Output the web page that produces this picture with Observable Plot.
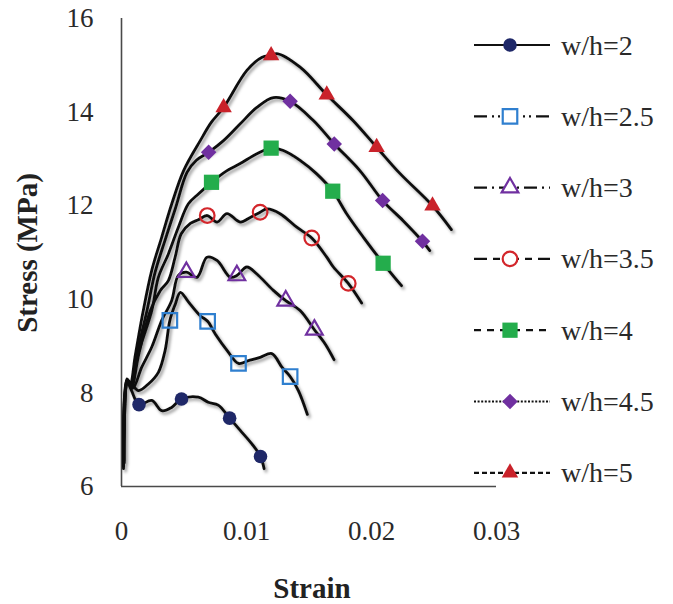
<!DOCTYPE html>
<html>
<head>
<meta charset="utf-8">
<script src="https://cdn.jsdelivr.net/npm/d3@7"></script>
<script src="https://cdn.jsdelivr.net/npm/@observablehq/plot@0.6"></script>
<style>
  html, body { margin: 0; padding: 0; background: #fff; }
  #wrap { position: relative; width: 673px; height: 604px; }
  #wrap svg { position: absolute; left: 0; top: 0; }
</style>
</head>
<body>
<div id="wrap"></div>
<script>
// ---------- data (strain, stress MPa) ----------
const seriesNames = ["w/h=2", "w/h=2.5", "w/h=3", "w/h=3.5", "w/h=4", "w/h=4.5", "w/h=5"];

const curve_wh2 = [[0.00016,6.38],[0.0004,8.26],[0.0008,8.05],[0.0014,7.75],[0.00242,7.84],[0.00322,7.62],[0.00401,7.69],[0.0048,7.87],[0.00615,7.91],[0.00694,7.80],[0.00774,7.74],[0.00865,7.46],[0.0095,7.2],[0.01043,6.91],[0.01112,6.64],[0.01141,6.38]];
const curve_wh25 = [[0.00016,6.43],[0.00048,8.26],[0.00082,8.19],[0.00136,8.05],[0.00215,8.19],[0.00295,8.44],[0.00349,8.91],[0.00387,9.55],[0.00431,9.9],[0.00471,10.15],[0.00537,9.94],[0.0063,9.65],[0.00689,9.53],[0.0075,9.26],[0.00844,8.91],[0.00936,8.63],[0.01016,8.69],[0.01109,8.76],[0.01203,8.84],[0.01283,8.55],[0.01349,8.35],[0.01415,8.05],[0.01487,7.54]];
const curve_wh3 = [[0.0002,6.5],[0.0005,8.2],[0.0009,8.1],[0.00162,8.55],[0.00242,8.98],[0.00322,9.55],[0.00401,9.97],[0.00455,10.51],[0.00519,10.58],[0.00604,10.47],[0.00684,10.9],[0.00764,10.83],[0.0087,10.47],[0.00923,10.51],[0.01003,10.69],[0.01083,10.54],[0.01215,10.19],[0.01314,9.97],[0.01429,9.76],[0.01543,9.35],[0.01628,9.05],[0.017,8.71]];
const curve_wh35 = [[0.0002,6.5],[0.0005,8.25],[0.0008,8.15],[0.0014,8.85],[0.00231,9.76],[0.00311,10.19],[0.00375,10.4],[0.00429,10.9],[0.00478,11.4],[0.00551,11.62],[0.00615,11.7],[0.00686,11.79],[0.00764,11.65],[0.00844,11.83],[0.0095,11.65],[0.0103,11.75],[0.01109,11.86],[0.01163,11.93],[0.01269,11.83],[0.01402,11.54],[0.01522,11.31],[0.01642,10.9],[0.01695,10.69],[0.01814,10.34],[0.01921,9.92]];
const curve_wh4 = [[0.0002,6.55],[0.00048,8.25],[0.0008,8.1],[0.0013,8.8],[0.00242,9.76],[0.00295,10.47],[0.00375,10.97],[0.00455,11.54],[0.00535,12.04],[0.00615,12.25],[0.0072,12.5],[0.00844,12.75],[0.0095,12.9],[0.01083,13.11],[0.01197,13.23],[0.01295,13.18],[0.01429,12.97],[0.01562,12.68],[0.0169,12.31],[0.01801,11.83],[0.01934,11.33],[0.02093,10.77],[0.0224,10.29]];
const curve_wh45 = [[0.00018,6.5],[0.00046,8.28],[0.00075,8.15],[0.0012,8.8],[0.00204,9.76],[0.00268,10.57],[0.00348,11.26],[0.00431,11.94],[0.00524,12.71],[0.00599,12.97],[0.00697,13.14],[0.00816,13.39],[0.0095,13.75],[0.01083,14.1],[0.01215,14.31],[0.01349,14.23],[0.01535,13.82],[0.01702,13.32],[0.01907,12.75],[0.02089,12.11],[0.02253,11.68],[0.02408,11.24],[0.02466,11.04]];
const curve_wh5 = [[0.00016,6.45],[0.00044,8.3],[0.0007,8.2],[0.0011,8.8],[0.0017,9.7],[0.00242,10.62],[0.00322,11.33],[0.00401,12.03],[0.00497,12.75],[0.0063,13.39],[0.00718,13.78],[0.00817,14.1],[0.01003,14.89],[0.01125,15.17],[0.01197,15.21],[0.01243,15.25],[0.01429,14.96],[0.01642,14.37],[0.01852,13.82],[0.02041,13.25],[0.02227,12.69],[0.02488,12.0],[0.02639,11.49]];

const markers_wh2 = [[0.0014,7.75],[0.0048,7.87],[0.00865,7.46],[0.01112,6.64]];
const markers_wh25 = [[0.00387,9.55],[0.00689,9.53],[0.00936,8.63],[0.01349,8.35]];
const markers_wh3 = [[0.00519,10.58],[0.00923,10.51],[0.01314,9.97],[0.01543,9.35]];
const markers_wh35 = [[0.00686,11.79],[0.01109,11.86],[0.01522,11.31],[0.01814,10.34]];
const markers_wh4 = [[0.0072,12.5],[0.01197,13.23],[0.0169,12.31],[0.02093,10.77]];
const markers_wh45 = [[0.00697,13.14],[0.01349,14.23],[0.01702,13.32],[0.02089,12.11],[0.02408,11.24]];
const markers_wh5 = [[0.00817,14.1],[0.01197,15.21],[0.01642,14.37],[0.02041,13.25],[0.02488,12.0]];

const xTicks = [0, 0.01, 0.02, 0.03];
const xTickLabels = ["0", "0.01", "0.02", "0.03"];
const yTicks = [6, 8, 10, 12, 14, 16];
const xTitle = "Strain";
const yTitle = "Stress (MPa)";

// ---------- styles ----------
const curves = [curve_wh2, curve_wh25, curve_wh3, curve_wh35, curve_wh4, curve_wh45, curve_wh5];
const markerSets = [markers_wh2, markers_wh25, markers_wh3, markers_wh35, markers_wh4, markers_wh45, markers_wh5];
const colors = ["#1f2868", "#2f7fcf", "#7030a0", "#d3262b", "#24ad4c", "#7030a0", "#c9222a"];
const symbols = ["circle", "square", "triangle", "circle", "square", "diamond2", "triangle"];
const filled = [true, false, false, false, true, true, true];
const radii = [6.8, 8.2, 6.2, 7.3, 8.6, 7.0, 6.1];
const dashes = [null, "13,5,2,4,2,5", "13,5,2,5", "13,6,7,6", "7,6", "2,1.6", "5,3"];
const FONT = "'Liberation Serif', 'Times New Roman', serif";

const curveRows = curves.flatMap((c, i) => c.map(([strain, stress]) => ({s: seriesNames[i], strain, stress})));

const dotMarks = markerSets.map((m, i) => Plot.dot(m.map(([strain, stress]) => ({strain, stress})), {
  x: "strain", y: "stress", symbol: symbols[i], r: radii[i],
  fill: filled[i] ? colors[i] : "none",
  stroke: filled[i] ? "none" : colors[i],
  strokeWidth: filled[i] ? 0 : 2.2
}));

const chart = Plot.plot({
  width: 673, height: 604,
  marginLeft: 121, marginRight: 177, marginTop: 18, marginBottom: 118,
  style: {fontFamily: FONT, fontSize: "27px", color: "#2a2a2a", background: "transparent"},
  x: {domain: [0, 0.03], label: null},
  y: {domain: [6, 16], label: null},
  marks: [
    Plot.ruleX([0], {stroke: "#4a4a4a", strokeWidth: 1.6}),
    Plot.ruleY([6], {stroke: "#4a4a4a", strokeWidth: 1.6}),
    Plot.axisX({ticks: xTicks, tickSize: 0, tickPadding: 34, tickFormat: (d) => xTickLabels[xTicks.indexOf(d)], label: null}),
    Plot.axisY({ticks: yTicks, tickSize: 0, tickPadding: 28, label: null}),
    Plot.line(curveRows, {x: "strain", y: "stress", z: "s", stroke: "#111", strokeWidth: 2.8, curve: "catmull-rom"}),
    ...dotMarks
  ]
});

document.getElementById("wrap").appendChild(chart);

// shadow on curves
const svg = d3.select(chart);
const defs = svg.insert("defs", ":first-child");
const f = defs.append("filter").attr("id", "sh").attr("x", "-10%").attr("y", "-10%").attr("width", "130%").attr("height", "130%");
f.append("feDropShadow").attr("dx", 2).attr("dy", 2.5).attr("stdDeviation", 1.8).attr("flood-color", "#000").attr("flood-opacity", 0.4);
svg.selectAll('g[aria-label="line"]').attr("filter", "url(#sh)");

// axis titles
svg.append("text").attr("x", 312).attr("y", 588).attr("text-anchor", "middle").attr("dominant-baseline", "central")
  .attr("font-family", FONT).attr("font-weight", "bold").attr("font-size", 29).attr("fill", "#222").text(xTitle);
svg.append("text").attr("transform", "translate(27,253) rotate(-90)").attr("text-anchor", "middle").attr("dominant-baseline", "central")
  .attr("font-family", FONT).attr("font-weight", "bold").attr("font-size", 29).attr("fill", "#222").text(yTitle);

// legend
const symMap = {circle: d3.symbolCircle, square: d3.symbolSquare, triangle: d3.symbolTriangle, diamond2: d3.symbolDiamond2};
const leg = svg.append("g").attr("font-family", FONT).attr("font-size", 28).attr("fill", "#2a2a2a").attr("text-anchor", "start");
seriesNames.forEach((name, i) => {
  const g = leg.append("g").attr("transform", `translate(0,${45 + i * 71.3})`);
  g.append("line").attr("x1", 474).attr("x2", 550).attr("y1", 0).attr("y2", 0)
    .attr("stroke", "#111").attr("stroke-width", 2.2).attr("stroke-dasharray", dashes[i]);
  g.append("path").attr("transform", "translate(510,0)")
    .attr("d", d3.symbol(symMap[symbols[i]], radii[i] * radii[i] * Math.PI)())
    .attr("fill", filled[i] ? colors[i] : "#fff")
    .attr("stroke", filled[i] ? "none" : colors[i]).attr("stroke-width", 2.2);
  g.append("text").attr("x", 561).attr("y", 0).attr("text-anchor", "start").attr("dominant-baseline", "central").text(name);
});
</script>
</body>
</html>
